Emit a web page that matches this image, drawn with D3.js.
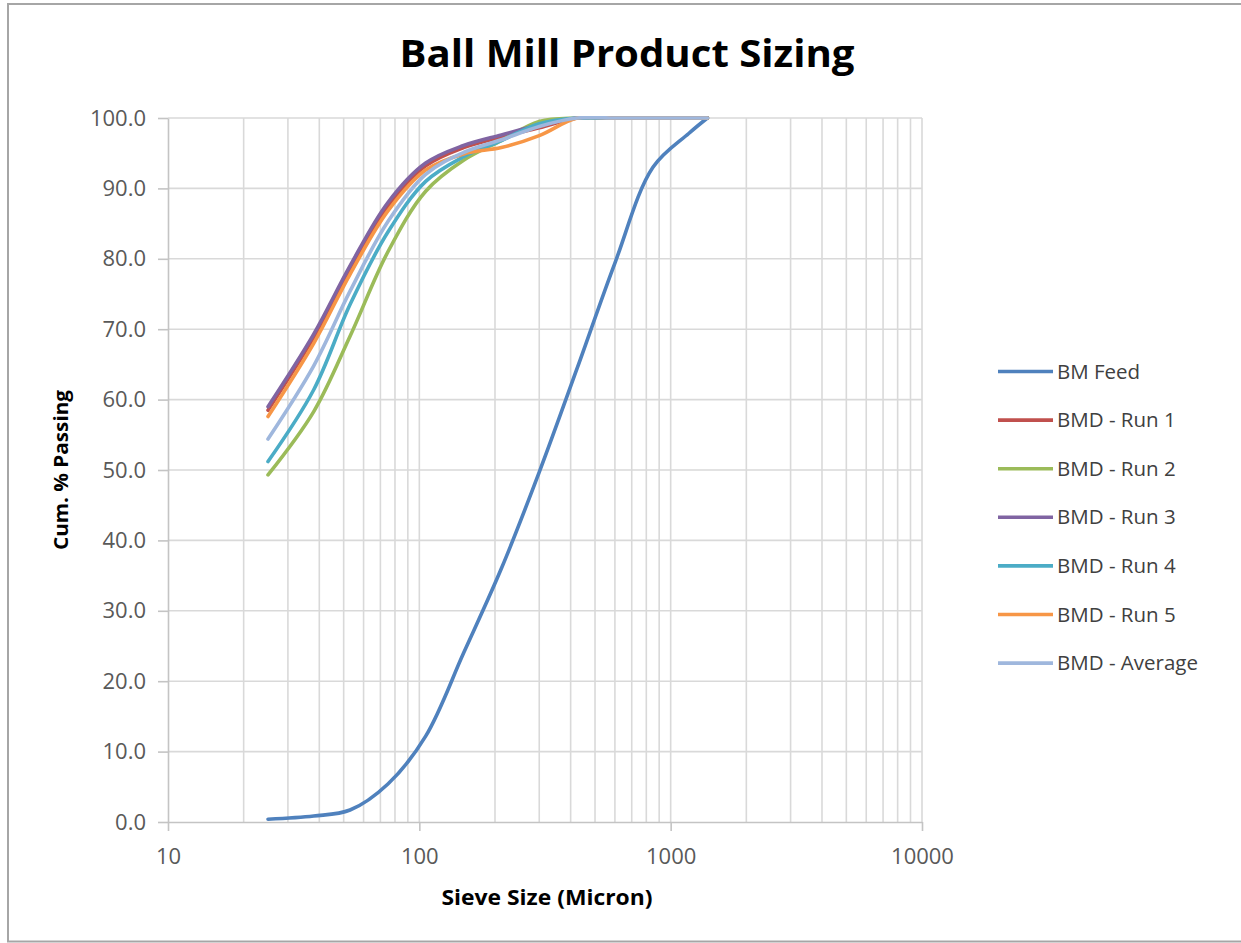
<!DOCTYPE html>
<html>
<head>
<meta charset="utf-8">
<script src="https://cdn.jsdelivr.net/npm/d3@7/dist/d3.min.js"></script>
<style>
  html, body { margin: 0; padding: 0; background: #fff; }
  svg { display: block; font-family: "Open Sans", sans-serif; }
</style>
</head>
<body>
<div id="chart"></div>
<script>
// sieve sizes (micron) and cumulative % passing
const sizes = [25, 38, 53, 75, 106, 150, 212, 300, 425, 600, 850, 1180, 1400];
const bmFeed = [0.4, 0.85, 1.7, 5.4, 12.2, 24.0, 36.0, 49.7, 64.5, 79.4, 93.0, 97.8, 100];
const run1 = [58.5, 68.8, 78.2, 87.4, 93.2, 95.8, 97.3, 98.6, 100, 100, 100, 100, 100];
const run2 = [49.3, 58.3, 69.0, 81.0, 89.6, 94.0, 96.8, 99.5, 100, 100, 100, 100, 100];
const run3 = [59.0, 69.3, 79.0, 88.0, 93.6, 96.1, 97.6, 99.0, 100, 100, 100, 100, 100];
const run4 = [51.2, 61.4, 73.5, 83.8, 91.0, 94.5, 96.8, 99.2, 100, 100, 100, 100, 100];
const run5 = [57.6, 68.0, 77.8, 86.8, 92.6, 94.9, 95.8, 97.5, 100, 100, 100, 100, 100];
const runAvg = [54.4, 64.8, 75.4, 85.3, 92.0, 95.1, 96.9, 98.8, 100, 100, 100, 100, 100];

const seriesNames = ["BM Feed", "BMD - Run 1", "BMD - Run 2", "BMD - Run 3", "BMD - Run 4", "BMD - Run 5", "BMD - Average"];
const seriesValues = [bmFeed, run1, run2, run3, run4, run5, runAvg];
const colors = ["#4f81bd", "#c0504d", "#9bbb59", "#8064a2", "#4bacc6", "#f79646", "#9fb7dd"];

const xTicks = [10, 100, 1000, 10000];
const yTicks = d3.range(0, 101, 10);

const W = 1241, H = 943;
const plot = { left: 168, right: 922, top: 118, bottom: 822 };

const svg = d3.select("#chart").append("svg")
  .attr("width", W).attr("height", H);

// outer frame
svg.append("rect")
  .attr("x", 8).attr("y", 4).attr("width", W).attr("height", H - 5.5)
  .attr("fill", "#fff").attr("stroke", "#a6a6a6").attr("stroke-width", 2);

svg.append("clipPath").attr("id", "plot-clip").append("rect")
  .attr("x", plot.left - 4).attr("y", plot.top - 2)
  .attr("width", plot.right - plot.left + 8).attr("height", plot.bottom - plot.top + 6);

const x = d3.scaleLog().domain([10, 10000]).range([plot.left, plot.right]);
const y = d3.scaleLinear().domain([0, 100]).range([plot.bottom, plot.top]);

/** Gridlines */
const minor = [];
[10, 100, 1000].forEach(d => { for (let k = 2; k <= 9; k++) minor.push(d * k); });
const grid = svg.append("g").attr("stroke", "#d9d9d9").attr("stroke-width", 1.6);
grid.selectAll(".vg").data(minor.concat([100, 1000, 10000])).enter().append("line")
  .attr("x1", d => x(d)).attr("x2", d => x(d))
  .attr("y1", plot.top).attr("y2", plot.bottom);
grid.selectAll(".hg").data(yTicks.slice(1)).enter().append("line")
  .attr("x1", plot.left).attr("x2", plot.right)
  .attr("y1", d => y(d)).attr("y2", d => y(d));

/** Axes */
const yAxis = d3.axisLeft(y).tickValues(yTicks).tickFormat(d3.format(".1f"))
  .tickSizeInner(10).tickSizeOuter(0).tickPadding(12);
const xAxis = d3.axisBottom(x).tickValues(xTicks).tickFormat(d3.format("d"))
  .tickSizeInner(9).tickSizeOuter(0).tickPadding(12);

const gy = svg.append("g").attr("transform", `translate(${plot.left},0)`).call(yAxis);
const gx = svg.append("g").attr("transform", `translate(0,${plot.bottom})`).call(xAxis);
[gx, gy].forEach(g => {
  g.selectAll("path, line").attr("stroke", "#c4c4c4").attr("stroke-width", 1.6);
  g.selectAll("text").attr("fill", "#595959").style("font-size", "22px")
    .style("font-family", "'Open Sans', sans-serif");
});
gx.selectAll("text").attr("dy", "0.95em");

/** Series lines */
const line = d3.line()
  .x((d, i) => x(sizes[i]))
  .y(d => y(Math.min(d, 100)))
  .curve(d3.curveCatmullRom.alpha(0.5));

svg.append("g").attr("clip-path", "url(#plot-clip)")
  .selectAll("path").data(seriesValues).enter().append("path")
  .attr("d", d => line(d))
  .attr("fill", "none")
  .attr("stroke", (d, i) => colors[i])
  .attr("stroke-width", 3.6)
  .attr("stroke-linejoin", "round")
  .attr("stroke-linecap", "round");

/** Titles */
svg.append("text")
  .attr("x", 627).attr("y", 67)
  .attr("text-anchor", "middle")
  .attr("textLength", 455).attr("lengthAdjust", "spacingAndGlyphs")
  .style("font-size", "38px").style("font-weight", "bold").attr("fill", "#000")
  .text("Ball Mill Product Sizing");

svg.append("text")
  .attr("x", (plot.left + plot.right) / 2 + 2).attr("y", 905)
  .attr("text-anchor", "middle")
  .attr("textLength", 211).attr("lengthAdjust", "spacingAndGlyphs")
  .style("font-size", "21px").style("font-weight", "bold").attr("fill", "#000")
  .text("Sieve Size (Micron)");

svg.append("text")
  .attr("transform", `translate(68,${(plot.top + plot.bottom) / 2}) rotate(-90)`)
  .attr("text-anchor", "middle")
  .attr("textLength", 160).attr("lengthAdjust", "spacingAndGlyphs")
  .style("font-size", "20px").style("font-weight", "bold").attr("fill", "#000")
  .text("Cum. % Passing");

/** Legend */
const legend = svg.append("g").attr("transform", "translate(998,371.5)");
const items = legend.selectAll("g").data(seriesNames).enter().append("g")
  .attr("transform", (d, i) => `translate(0,${i * 48.6})`);
items.append("line")
  .attr("x1", 0).attr("x2", 55).attr("y1", 0).attr("y2", 0)
  .attr("stroke", (d, i) => colors[i]).attr("stroke-width", 3.6);
items.append("text")
  .attr("x", 59).attr("y", 0).attr("dy", "0.35em")
  .style("font-size", "20.5px").attr("fill", "#404040")
  .text(d => d);
</script>
</body>
</html>
